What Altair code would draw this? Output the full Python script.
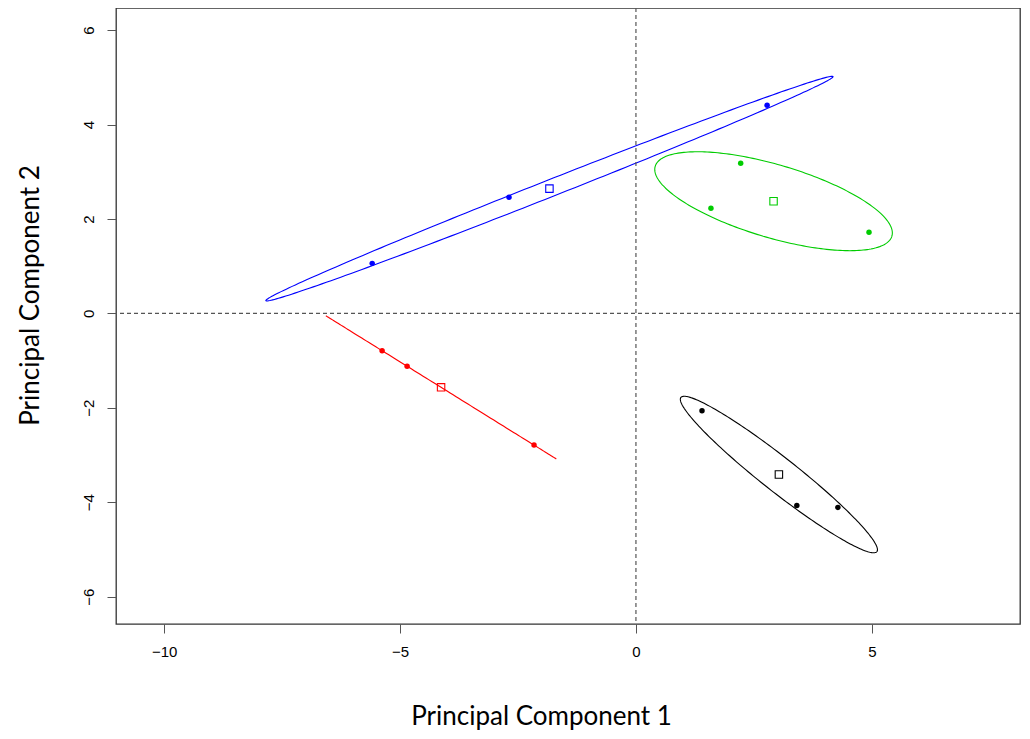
import altair as alt
import numpy as np
import pandas as pd

# ---- data ----
groups = ["blue", "green", "red", "black"]
colors = ["#0000ff", "#00cc00", "#ff0000", "#000000"]
pc1_blue = [2.78, -2.69, -5.59]
pc2_blue = [4.41, 2.46, 1.06]
pc1_green = [2.22, 1.59, 4.94]
pc2_green = [3.18, 2.23, 1.72]
pc1_red = [-5.38, -4.85, -2.16]
pc2_red = [-0.79, -1.12, -2.79]
pc1_black = [1.40, 3.41, 4.28]
pc2_black = [-2.06, -4.07, -4.11]
x_ticks = [-10, -5, 0, 5]
y_ticks = [-6, -4, -2, 0, 2, 4, 6]
ellipse_scale = np.sqrt(2.0)

xs = [pc1_blue, pc1_green, pc1_red, pc1_black]
ys = [pc2_blue, pc2_green, pc2_red, pc2_black]

pts, cents, ells = [], [], []
t = np.linspace(0, 2 * np.pi, 241)
for g, gx, gy in zip(groups, xs, ys):
    gx = np.array(gx); gy = np.array(gy)
    for a, b in zip(gx, gy):
        pts.append({"g": g, "x": a, "y": b})
    mx, my = gx.mean(), gy.mean()
    cents.append({"g": g, "x": mx, "y": my})
    cov = np.cov(np.vstack([gx, gy]))
    w, v = np.linalg.eigh(cov)
    w = np.clip(w, 0, None)
    circ = np.vstack([np.cos(t), np.sin(t)])
    e = v @ (np.sqrt(w)[:, None] * circ) * ellipse_scale
    for i in range(len(t)):
        ells.append({"g": g, "i": i, "x": mx + e[0, i], "y": my + e[1, i]})

pts = pd.DataFrame(pts)
cents = pd.DataFrame(cents)
ells = pd.DataFrame(ells)

xdom = [-11.02, 8.14]
ydom = [-6.58, 6.47]
color = alt.Color("g:N", scale=alt.Scale(domain=groups, range=colors), legend=None)

xax = alt.Axis(values=x_ticks, grid=False, domain=False, tickSize=9, tickColor="#555555",
               labelFont="Liberation Sans", labelFontSize=15, labelColor="#000000", labelPadding=11,
               title="Principal Component 1", titleFont="Lato", titleFontSize=26,
               titleFontWeight="normal", titleColor="#000000",
               titleX=425, titleY=92, titleAlign="center", titleBaseline="middle")
yax = alt.Axis(values=y_ticks, grid=False, domain=False, tickSize=9, tickColor="#555555",
               labelFont="Liberation Sans", labelFontSize=15, labelColor="#000000",
               labelAngle=-90, labelAlign="center", labelBaseline="bottom", labelPadding=11,
               title="Principal Component 2", titleFont="Lato", titleFontSize=26,
               titleFontWeight="normal", titleColor="#000000", titleAngle=-90,
               titleX=-86, titleY=287, titleAlign="center", titleBaseline="middle")

X = alt.X("x:Q", scale=alt.Scale(domain=xdom, nice=False, zero=False), axis=xax)
Y = alt.Y("y:Q", scale=alt.Scale(domain=ydom, nice=False, zero=False), axis=yax)

vrule = alt.Chart(pd.DataFrame({"x": [0]})).mark_rule(
    color="#555555", strokeDash=[4, 3], strokeWidth=1.2).encode(x=alt.X("x:Q"))
hrule = alt.Chart(pd.DataFrame({"y": [0]})).mark_rule(
    color="#555555", strokeDash=[4, 3], strokeWidth=1.2).encode(y=alt.Y("y:Q"))

ell = alt.Chart(ells).mark_line(strokeWidth=1.1).encode(
    x=X, y=Y, color=color, detail="g:N", order="i:Q")
dots = alt.Chart(pts).mark_circle(size=30, opacity=1).encode(x=X, y=Y, color=color)
sq = alt.Chart(cents).mark_point(shape="square", size=55, filled=False, strokeWidth=1.1, opacity=1).encode(
    x=X, y=Y, color=color)

chart = alt.layer(ell, vrule, hrule, dots, sq).properties(
    width=904, height=616,
    autosize=alt.AutoSizeParams(type="none"),
    padding={"left": 108, "top": 0, "right": 2, "bottom": 115},
    background="white",
).configure_view(stroke="#333333", strokeWidth=1.3)

chart.save("out.html", embed_options={"renderer": "svg", "actions": False})
